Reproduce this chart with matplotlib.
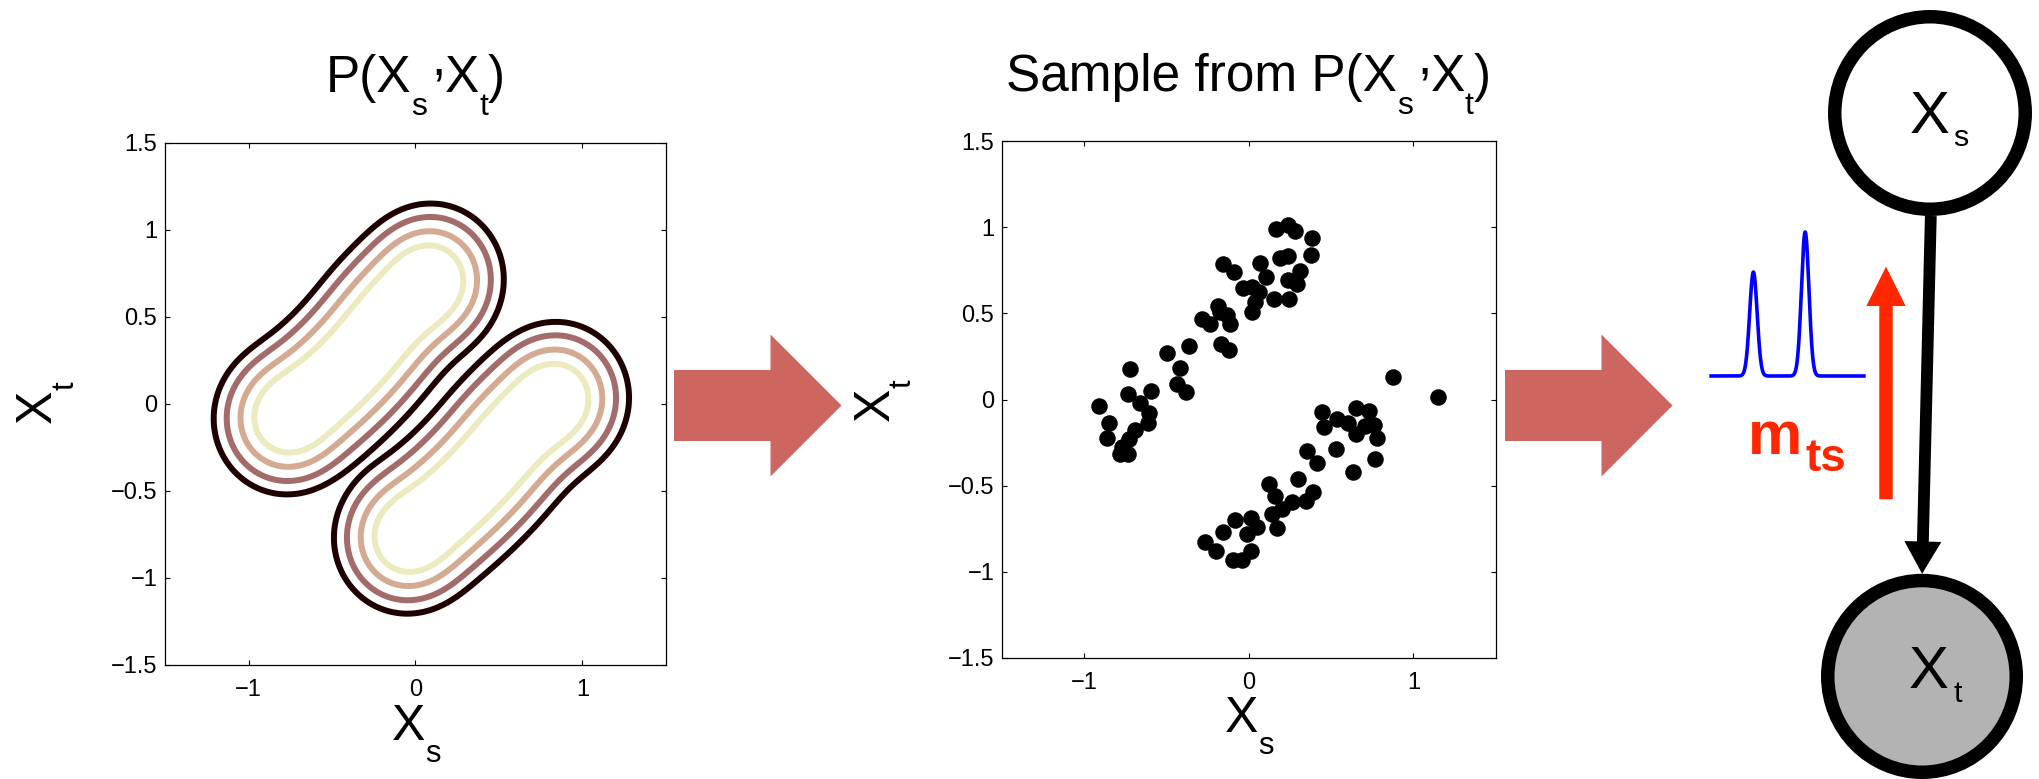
import numpy as np
import matplotlib
matplotlib.use('Agg')
import matplotlib.pyplot as plt
from matplotlib.patches import FancyArrow, Ellipse
from matplotlib.font_manager import FontProperties

plt.rcParams['font.family'] = ['Liberation Sans', 'DejaVu Sans']

# ---------------- data ----------------
axis_ticks_x = [-1, 0, 1]
axis_tick_labels_x = ['\u22121', '0', '1']
axis_ticks_y = [-1.5, -1, -0.5, 0, 0.5, 1, 1.5]
axis_tick_labels_y = ['\u22121.5', '\u22121', '\u22120.5', '0', '0.5', '1', '1.5']

# joint density P(Xs, Xt): two elongated lobes (kernel paths)
lobe1_path_x = [-0.78, -0.53, -0.33, -0.13, 0.10]
lobe1_path_y = [-0.09, 0.09, 0.28, 0.53, 0.72]
lobe2_path_x = [-0.06, 0.18, 0.40, 0.61, 0.85]
lobe2_path_y = [-0.775, -0.60, -0.40, -0.15, 0.04]
kernel_sigma = 0.13
end_cap_weight = 0.5
contour_levels = [0.0028, 0.0174, 0.083, 0.271]
contour_colors = ['#1f0000', '#a46b6b', '#d4aa93', '#ebebbf']

# samples from P(Xs, Xt)
sample_xs = [-0.911, -0.847, -0.864, -0.720, -0.737, -0.594, -0.662, -0.609, -0.614, -0.694,
             -0.726, -0.773, -0.783, -0.737, -0.499, -0.418, -0.435, -0.382, -0.365, -0.285,
             -0.234, -0.185, -0.174, -0.132, -0.117, -0.170, -0.123, -0.157, -0.089, -0.036,
             0.021, 0.064, 0.038, 0.021, 0.066, 0.102, 0.155, 0.190, 0.236, 0.167,
             0.239, 0.283, 0.383, 0.376, 0.311, 0.240, 0.293, 0.245,
             0.875, 1.152, 0.447, 0.649, 0.730, 0.459, 0.539, 0.603, 0.651, 0.707,
             0.758, 0.777, 0.766, 0.634, 0.531, 0.355, 0.416, 0.299, 0.389, 0.350,
             0.125, 0.162, 0.261, 0.204, 0.138, 0.171, 0.015, 0.049, -0.011, -0.082,
             -0.154, -0.265, -0.198, -0.098, -0.039, 0.011]
sample_xt = [-0.039, -0.137, -0.221, 0.177, 0.031, 0.050, -0.023, -0.081, -0.139, -0.178,
             -0.227, -0.275, -0.318, -0.314, 0.268, 0.183, 0.089, 0.041, 0.311, 0.466,
             0.441, 0.544, 0.509, 0.490, 0.441, 0.321, 0.287, 0.788, 0.741, 0.645,
             0.654, 0.625, 0.567, 0.509, 0.795, 0.713, 0.583, 0.820, 0.836, 0.992,
             1.011, 0.978, 0.939, 0.837, 0.744, 0.693, 0.670, 0.583,
             0.130, 0.012, -0.070, -0.050, -0.064, -0.159, -0.115, -0.139, -0.201, -0.156,
             -0.149, -0.221, -0.343, -0.420, -0.290, -0.301, -0.370, -0.459, -0.539, -0.590,
             -0.488, -0.563, -0.598, -0.633, -0.665, -0.745, -0.687, -0.740, -0.780, -0.700,
             -0.772, -0.825, -0.880, -0.932, -0.932, -0.878]

# message m_ts: bimodal curve
message_peak_pos = [0.282, 0.613]
message_peak_height = [0.722, 1.0]
message_peak_width = 0.024

# ---------------- figure ----------------
W, H = 2040, 779
fig = plt.figure(figsize=(W / 100, H / 100), dpi=100)


def px_rect(l, t, r, b):
    return [l / W, 1 - b / H, (r - l) / W, (b - t) / H]


ov = fig.add_axes([0, 0, 1, 1])
ov.set_xlim(0, W)
ov.set_ylim(H, 0)
ov.axis('off')
ov.patch.set_visible(False)

ax1 = fig.add_axes(px_rect(165, 142.6, 666, 664.9))
ax2 = fig.add_axes(px_rect(1002, 141.2, 1495.6, 657.8))


def lobe_density(path_x, path_y, gx, gy, sigma, end_w):
    px = np.asarray(path_x, float)
    py = np.asarray(path_y, float)
    seg = np.hypot(np.diff(px), np.diff(py))
    s_cum = np.concatenate([[0.0], np.cumsum(seg)])
    n = int(np.ceil(s_cum[-1] / 0.01))
    t = np.linspace(0, s_cum[-1], n + 1)
    cx = np.interp(t, s_cum, px)
    cy = np.interp(t, s_cum, py)
    w = np.full(n + 1, s_cum[-1] / n)
    w[0] *= 0.5
    w[-1] *= 0.5
    cap = end_w * np.sqrt(2 * np.pi) * sigma
    w[0] += cap
    w[-1] += cap
    dens = np.zeros_like(gx)
    for xk, yk, wk in zip(cx, cy, w):
        dens += wk * np.exp(-((gx - xk) ** 2 + (gy - yk) ** 2) / (2 * sigma ** 2))
    return dens / (np.sqrt(2 * np.pi) * sigma)


grid = np.linspace(-1.5, 1.5, 301)
GX, GY = np.meshgrid(grid, grid)
Z = (lobe_density(lobe1_path_x, lobe1_path_y, GX, GY, kernel_sigma, end_cap_weight)
     + lobe_density(lobe2_path_x, lobe2_path_y, GX, GY, kernel_sigma, end_cap_weight))
ax1.contour(GX, GY, Z, levels=contour_levels, colors=contour_colors, linewidths=4.3)

ax2.plot(sample_xs, sample_xt, 'o', color='k', markersize=11.9, markeredgewidth=0,
         linestyle='none')

for ax in (ax1, ax2):
    ax.set_xlim(-1.5, 1.5)
    ax.set_ylim(-1.5, 1.5)
    ax.set_xticks(axis_ticks_x)
    ax.set_xticklabels(axis_tick_labels_x)
    ax.set_yticks(axis_ticks_y)
    ax.set_yticklabels(axis_tick_labels_y)
    ax.tick_params(direction='in', top=True, right=True, length=3.4, width=0.8,
                   labelsize=17, color='k')
    ax.tick_params(axis='x', pad=10.5)
    ax.tick_params(axis='y', pad=5.5)
    for sp in ax.spines.values():
        sp.set_linewidth(0.9)

# ---------------- text helper (pixel coords, y down) ----------------
renderer = fig.canvas.get_renderer()


def rich_text(x, y, parts, size, ha='center', rotation=0, family=None,
              weight='normal', color='k'):
    fam = family if family is not None else plt.rcParams['font.family']
    em = size * fig.dpi / 72.0
    items = []
    for s, sc, dr, gp in parts:
        fp = FontProperties(family=fam, size=size * sc, weight=weight)
        w, h, d = renderer.get_text_width_height_descent(s, fp, ismath=False)
        items.append((s, dr, gp, fp, w))
    total = sum(it[4] for it in items) + sum(it[2] * em for it in items)
    pos = {'left': 0.0, 'center': -total / 2.0, 'right': -total}[ha]
    for s, dr, gp, fp, w in items:
        pos += gp * em
        if rotation == 0:
            tx, ty = x + pos, y + dr * em
        else:
            tx, ty = x + dr * em, y - pos
        ov.text(tx, ty, s, fontproperties=fp, rotation=rotation,
                rotation_mode='anchor', ha='left', va='baseline', color=color)
        pos += w


title_parts = lambda head: [(head, 1, 0, 0), ('s', 0.62, 0.45, 0.0),
                            (',', 1, -0.34, 0.08), ('X', 1, 0, -0.02),
                            ('t', 0.62, 0.45, 0.0), (')', 1, 0, 0.0)]
rich_text(415.5, 92, title_parts('P(X'), 37)
rich_text(1248.5, 91, title_parts('Sample from P(X'), 37)

lab_s = [('X', 1, 0, 0), ('s', 0.62, 0.45, 0.0)]
lab_t = [('X', 1, 0, 0), ('t', 0.62, 0.45, 0.0)]
rich_text(416, 740, lab_s, 36)
rich_text(1249, 732, lab_s, 36)
rich_text(51.3, 402, lab_t, 36, rotation=90)
rich_text(888.5, 400, lab_t, 36, rotation=90)

# ---------------- block arrows ----------------
for x0 in (674, 1505):
    ov.add_patch(FancyArrow(x0, 405.5, 167.5, 0, width=71, head_width=142,
                            head_length=71, length_includes_head=True,
                            color='#cd6660', lw=0))

# ---------------- message curve ----------------
axm = fig.add_axes(px_rect(1709.3, 232, 1865.7, 376))
mx = np.linspace(0, 1, 800)
my = np.zeros_like(mx)
for p, h in zip(message_peak_pos, message_peak_height):
    my += h * np.exp(-(mx - p) ** 2 / (2 * message_peak_width ** 2))
axm.plot(mx, my, color='#0000ff', lw=2.6, clip_on=False, solid_capstyle='butt')
axm.set_xlim(0, 1)
axm.set_ylim(0, 1)
axm.axis('off')

# red message arrow and label
ov.add_patch(FancyArrow(1886, 499.3, 0, 266.7 - 499.3, width=13.4, head_width=39.3,
                        head_length=39.3, length_includes_head=True,
                        color='#ff2600', lw=0))
rich_text(1748, 453.5, [('m', 1, 0, 0), ('ts', 0.75, 0.287, 0.05)], 44,
          ha='left', weight='bold', color='#ff2600')

# ---------------- graphical model ----------------
ov.add_patch(Ellipse((1930, 113), 190.5, 192.5, fc='white', ec='k', lw=9.7, zorder=2))
ov.add_patch(Ellipse((1922, 676.4), 188.5, 191.7, fc='#b3b3b3', ec='k', lw=9.7, zorder=2))
ov.add_patch(FancyArrow(1930.8, 216, 1922.1 - 1930.8, 573.8 - 216, width=11.8,
                        head_width=37, head_length=32.3, length_includes_head=True,
                        color='k', lw=0, zorder=3))
node_font = ['Liberation Sans Narrow', 'Liberation Sans']
rich_text(1910, 132.7, [('X', 1, 0, 0), ('s', 0.51, 0.223, 0.06)], 43, ha='left',
          family=node_font)
rich_text(1909, 688, [('X', 1, 0, 0), ('t', 0.51, 0.23, 0.08)], 43, ha='left',
          family=node_font)

fig.savefig('out.png', dpi=100)
